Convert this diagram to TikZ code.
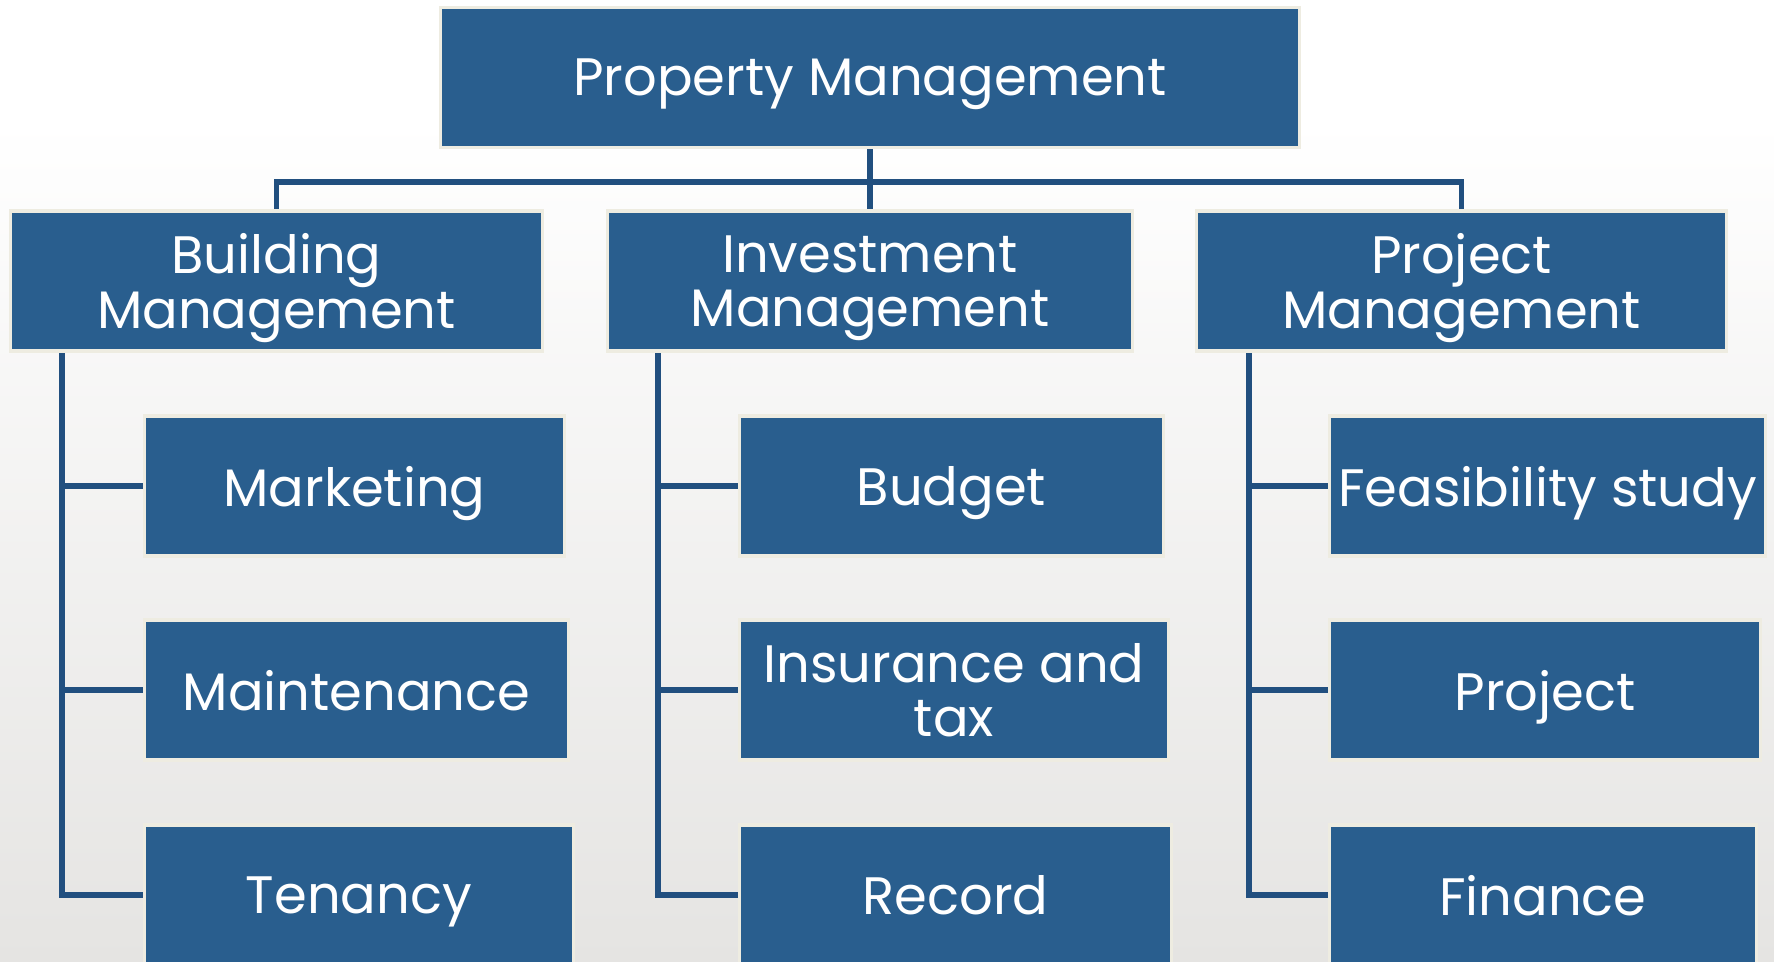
\documentclass[tikz,border=0pt]{standalone}
\usepackage{fontspec}
\setmainfont{Poppins}
\usetikzlibrary{shapes, arrows}
\definecolor{boxblue}{RGB}{41,94,142}
\definecolor{frame}{RGB}{238,236,225}
\definecolor{linec}{RGB}{33,79,127}
\definecolor{bggray}{RGB}{229,228,226}
\pgfdeclarelayer{background}
\pgfsetlayers{background,main}
\tikzstyle{box} = [rectangle, draw=frame, line width=0.9pt, fill=boxblue, text=white, align=center, inner sep=0pt, text depth=0pt, minimum height=1.40cm, font=\fontsize{15}{15.4}\selectfont]
\tikzstyle{line} = [draw=linec, line width=1.5pt]

\begin{document}
\begin{tikzpicture}[node distance=2cm]
    \clip (0,0) rectangle (17.74,-9.62);
    \node [box, minimum width=8.59cm] (prop) at (8.70,-0.775) {Property Management};
    \node [box, minimum width=5.25cm, below of=prop, node distance=2.035cm] (invest) {Investment\\Management};
    \node [box, minimum width=5.32cm, left of=invest, node distance=5.935cm] (build) {Building\\Management};
    \node [box, minimum width=5.30cm, right of=invest, node distance=5.915cm] (proj) {Project\\Management};

    \node [box, minimum width=4.20cm, below of=build, node distance=2.05cm, xshift=0.78cm] (market) {Marketing};
    \node [box, minimum width=4.24cm, below of=market, node distance=2.04cm, xshift=0.02cm] (maint) {Maintenance};
    \node [box, minimum width=4.29cm, below of=maint, node distance=2.05cm, xshift=0.025cm] (tenancy) {Tenancy};

    \node [box, minimum width=4.24cm, below of=invest, node distance=2.05cm, xshift=0.815cm] (budget) {Budget};
    \node [box, minimum width=4.29cm, below of=budget, node distance=2.04cm, xshift=0.025cm] (insure) {Insurance and\\tax};
    \node [box, minimum width=4.32cm, below of=insure, node distance=2.05cm, xshift=0.015cm] (record) {Record};

    \node [box, minimum width=4.36cm, below of=proj, node distance=2.05cm, xshift=0.86cm] (feas) {Feasibility study};
    \node [box, minimum width=4.31cm, below of=feas, node distance=2.04cm, xshift=-0.025cm] (project) {Project};
    \node [box, minimum width=4.27cm, below of=project, node distance=2.05cm, xshift=-0.02cm] (finance) {Finance};

    \coordinate (bus) at ([yshift=-0.33cm]prop.south);
    \coordinate (btrunk) at ([xshift=0.53cm]build.south west);
    \coordinate (itrunk) at ([xshift=0.52cm]invest.south west);
    \coordinate (ptrunk) at ([xshift=0.54cm]proj.south west);

    \begin{pgfonlayer}{background}
    \shade [top color=white, bottom color=bggray] (0,-1.2) rectangle (17.74,-9.62);
    \fill [white] (0,0) rectangle (17.74,-1.21);
    \path [line] (prop.south) -- (invest.north);
    \path [line] (bus) -| (build.north);
    \path [line] (bus) -| (proj.north);
    \path [line] (btrunk) |- (tenancy.west);
    \path [line] (market.west) -| (btrunk);
    \path [line] (maint.west) -| (btrunk);
    \path [line] (itrunk) |- (record.west);
    \path [line] (budget.west) -| (itrunk);
    \path [line] (insure.west) -| (itrunk);
    \path [line] (ptrunk) |- (finance.west);
    \path [line] (feas.west) -| (ptrunk);
    \path [line] (project.west) -| (ptrunk);
    \end{pgfonlayer}
\end{tikzpicture}
\end{document}
